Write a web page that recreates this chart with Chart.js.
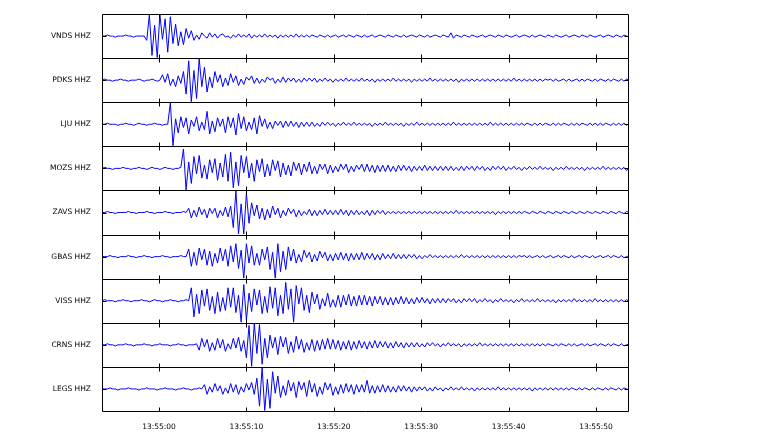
<!DOCTYPE html>
<html>
<head>
<meta charset="utf-8">
<script src="https://cdn.jsdelivr.net/npm/chart.js@4.4.0/dist/chart.umd.min.js"></script>
<style>
  html, body { margin: 0; padding: 0; background: #fff; }
</style>
</head>
<body>
<canvas id="seis" width="768" height="432"></canvas>
<script>
// station channels, top to bottom
const stations = ['VNDS HHZ', 'PDKS HHZ', 'LJU HHZ', 'MOZS HHZ', 'ZAVS HHZ',
                  'GBAS HHZ', 'VISS HHZ', 'CRNS HHZ', 'LEGS HHZ'];
// seconds after 13:55:00
const tickSeconds = [0, 10, 20, 30, 40, 50];
const timePrefix = '13:55:';
const startTime = -6.5;   // first sample, s
const sampleStep = 0.3;   // s between samples

// amplitudes (panel half height = 20)
const vnds = [0,0,1,0,0,-1,0,0,0,1, 0,0,-1,0,0,0,0,-4,20,-18, 10,-20,20,-3,16,-15,18,-7,11,-9,
  4,-8,7,-2,5,-4,1,-3,3,0, -2,3,-1,2,-2,1,2,-1,0,-2, 1,-1,2,-1,1,-1,2,-2,1,-1,
  1,-1,2,-1,1,-1,1,-2,1,-1, 1,-1,1,-1,2,-1,1,-1,1,-1, 1,0,-1,1,0,-1,1,-1,0,1,
  -1,0,1,-1,1,0,-1,1,0,-1, 1,-1,0,1,-1,0,1,0,-1,1, 0,-1,1,0,-1,1,-1,0,1,0,
  -1,1,0,-1,1,-1,0,1,0,-1, 1,0,-1,3,-2,1,0,-1,1,0, -1,1,0,-1,0,1,-1,0,1,0,
  -1,1,0,-1,1,0,-1,0,1,-1, 0,1,0,-1,1,-1,0,1,0,-1, 1,0,-1,1,0,-1,0,1,-1,0,
  1,0,-1,1,0,-1,1,0,-1,0, 1,-1,0,1,0,-1,1,0,-1,1, 0,-1,1,0,0];
const pdks = [0,1,0,0,-1,0,0,1,0,0, -1,0,0,0,1,0,-1,0,0,1, 0,-1,0,5,-2,6,-5,1,-6,4,
  -3,8,-13,18,-20,9,-17,20,-6,12, -11,3,-7,8,-2,5,-6,2,-5,6, -2,4,-5,1,-4,3,0,4,-3,2,
  -3,1,-2,3,0,2,-3,1,-2,3, -2,2,-1,2,-2,1,-2,2,-1,2, -1,2,-2,1,-1,2,-1,1,-2,1,
  -1,1,-1,2,-1,1,-1,1,-1,2, -1,1,-1,1,-2,1,-1,1,-1,1, -1,2,-1,1,-1,1,-1,1,-2,1,
  -1,1,-1,1,-1,2,-1,1,-1,1, -1,1,-1,1,-1,1,-2,1,-1,1, -1,1,-1,1,-1,1,-1,1,-1,1,
  -1,1,-1,1,-1,1,-1,2,-1,1, -1,1,-1,1,-1,1,-1,1,-1,1, 0,1,-1,1,-1,0,1,-1,1,-1,
  0,1,-1,1,-1,1,0,-1,1,-1, 1,0,-1,1,-1,1,0,-1,1,-1, 1,0,-1,1,0];
const lju = [0,0,1,0,0,0,-1,0,0,1, 0,0,-1,0,1,0,0,-1,0,0, 1,0,0,-1,0,0,20,-20,5,-8,
  7,-3,6,-9,4,-2,7,-6,2,-5, 12,-9,3,-7,6,-2,5,-8,7,-3, 6,-10,10,-4,7,-6,2,-5,6,-9,
  8,-2,5,-4,2,-4,3,-1,3,-3, 3,-2,3,-2,2,-3,2,-2,2,-2, 2,-2,1,-2,2,-1,2,-1,1,-2,
  1,-1,2,-1,1,-1,2,-1,1,-1, 1,-1,1,-2,1,-1,1,-1,2,-1, 1,-1,1,-1,1,-2,1,-1,1,-1,
  2,-1,1,-1,1,-1,1,-1,1,-1, 1,-1,1,-1,2,-1,1,-1,1,-1, 1,-1,1,-1,1,-1,1,-1,2,-1,
  1,-1,1,-1,1,-1,1,-1,1,-1, 1,-1,1,0,-1,1,-1,1,-1,1, 0,-1,1,-1,1,-1,1,0,-1,1,
  -1,1,-1,1,0,-1,1,-1,1,-1, 1,-1,1,0,-1,1,-1,1,-1,1, -1,1,0,-1,0];
const mozs = [0,1,0,0,-1,0,0,0,1,0, 0,-1,0,0,1,0,0,-1,0,1, 0,0,-1,0,1,0,0,-1,0,0,
  1,18,-20,6,-14,11,-5,12,-9,3, -10,8,-4,9,-11,5,-8,13,-12,15, -18,6,-16,12,-4,11,-9,5,-12,8,
  -3,9,-8,4,-7,8,-2,7,-8,5, -6,3,-7,6,-2,5,-6,4,-3,6, -5,2,-5,4,-1,4,-5,3,-4,2,
  -3,4,-1,4,-4,2,-3,3,-1,4, -3,4,-3,3,-4,3,-3,3,-3,3, -3,2,-3,3,-2,3,-2,2,-3,2,
  -2,2,-2,3,-2,2,-2,2,-2,2, -2,2,-2,2,-2,1,-2,2,-2,2, -1,2,-2,2,-1,2,-2,1,-2,2,
  -1,2,-1,2,-2,1,-1,2,-1,1, -2,1,-1,2,-1,1,-1,2,-1,1, -1,1,-2,1,-1,1,-1,2,-1,1,
  -1,1,-1,1,-2,1,-1,1,-1,1, -1,2,-1,1,-1,1,-1,1,-1,1, -2,1,-1,1,0];
const zavs = [0,0,1,0,0,-1,0,0,0,0, 1,0,0,-1,0,0,0,1,0,0, -1,0,0,0,1,0,0,-1,0,0,
  0,1,0,4,-5,2,-4,5,-2,3, -5,4,-1,4,-5,2,-3,5,-4,6, -14,20,-20,8,-20,18,-10,9,-3,7,
  -6,4,-7,3,-5,6,-2,4,-5,2, -3,4,-1,3,-4,2,-3,1,-2,3, -3,2,-3,2,-2,3,-2,2,-2,2,
  -2,3,-2,2,-3,2,-2,2,-2,1, -2,2,-3,2,-2,2,-1,2,-2,1, -1,1,-1,1,-1,1,-1,1,-1,1,
  -1,1,-1,1,-1,1,-1,1,-1,1, -1,1,-1,1,-1,2,-1,1,-1,1, -1,1,-1,1,-1,1,-1,1,-1,1,
  -2,1,-1,1,-1,1,-1,1,-1,1, -1,1,0,-1,1,0,-1,1,0,-1, 1,0,-1,1,0,-1,1,0,-1,1,
  0,-1,1,0,-1,1,0,-1,1,0, -1,1,0,-1,1,0,-1,1,0,-1, 1,0,-1,1,0];
const gbas = [0,0,0,1,0,0,-1,0,0,0, 1,0,0,-1,0,0,1,0,0,-1, 0,0,0,1,0,0,-1,0,0,0,
  1,0,0,7,-9,4,-8,8,-3,7, -8,5,-9,3,-6,8,-4,7,-9,10, -5,12,-11,6,-20,12,-6,10,-8,3,
  -8,7,-3,9,-12,4,-20,12,-14,5, -12,9,-4,7,-6,2,-5,6,-1,4, -5,2,-4,5,-1,4,-4,2,-4,3,
  -3,4,-3,3,-4,3,-3,3,-3,4, -3,3,-2,3,-3,2,-3,3,-2,2, -2,3,-2,2,-2,2,-2,2,-1,2,
  -2,1,-2,1,-1,2,-1,1,-1,1, -1,1,-1,1,-1,1,-1,2,-1,1, -1,1,-1,1,-1,1,-1,1,-1,1,
  -1,1,-1,1,-1,1,-1,1,-1,1, 0,1,-1,1,-1,0,1,-1,1,-1, 0,1,-1,0,1,-1,1,0,-1,1,
  -1,0,1,-1,1,0,-1,1,-1,0, 1,-1,0,1,-1,1,0,-1,1,-1, 0,1,-1,0,0];
const viss = [0,1,0,0,0,-1,0,0,1,0, 0,-1,0,0,0,1,0,0,-1,0, 1,0,0,-1,0,0,1,0,0,-1,
  0,0,1,0,12,-15,6,-12,10,-5, 11,-9,4,-12,8,-10,3,-9,12,-6, 12,-11,5,-20,15,-18,7,-10,11,-4,
  10,-12,4,-11,13,-7,12,-14,5,-12, 17,-8,11,-20,14,-3,12,-9,5,-11, 8,-3,6,-8,2,-5,7,-6,1,-6,
  5,-6,5,-4,6,-5,4,-5,5,-4, 5,-4,4,-5,4,-3,4,-4,3,-4, 3,-4,3,-3,4,-3,3,-3,2,-3,
  3,-2,3,-2,2,-3,2,-2,2,-2, 2,-2,2,-1,2,-2,1,-2,2,-1, 2,-1,2,-2,1,-1,2,-1,1,-2,
  1,-1,2,-1,1,-1,1,-2,1,-1, 2,-1,1,-1,1,-1,2,-1,1,-1, 1,-1,1,-2,1,-1,1,-1,1,-1,
  2,-1,1,-1,1,-1,1,-1,2,-1, 1,-1,1,-1,1,-1,1,-1,1,-1, 1,-1,1,-1,0];
const crns = [0,0,1,0,0,-1,0,0,0,1, 0,0,-1,0,0,0,1,0,0,-1, 0,0,1,0,0,0,-1,0,0,1,
  0,0,-1,0,0,0,1,-5,6,-2, 5,-6,2,-5,6,-3,5,-6,1,-4, 6,-3,7,-6,4,-12,18,-20,20,-8,
  19,-18,6,-12,9,-3,7,-9,8,-2, 7,-8,3,-7,8,-4,5,-7,2,-5, 5,-6,4,-5,5,-4,6,-4,5,-4,
  4,-5,3,-4,4,-5,3,-4,4,-3, 3,-4,3,-3,4,-3,3,-2,3,-3, 2,-3,3,-2,2,-3,2,-2,2,-2,
  2,-2,1,-2,2,-1,2,-1,1,-2, 1,-1,2,-1,1,-1,1,-2,1,-1, 1,-1,1,-1,2,-1,1,-1,1,-1,
  1,-1,1,-1,1,-1,1,-1,1,-1, 1,-1,1,-1,1,-1,1,-1,1,-1, 1,0,-1,1,-1,1,0,-1,1,-1,
  1,-1,0,1,-1,1,-1,0,1,-1, 1,0,-1,1,-1,1,0,-1,1,-1, 0,1,-1,1,0];
const legs = [0,0,0,1,0,0,-1,0,0,0, 1,0,0,0,-1,0,0,1,0,0, 0,-1,0,0,1,0,0,0,-1,0,
  0,1,0,0,-1,0,0,1,0,4, -5,2,-3,5,-2,3,-5,1,-4,5, -3,4,-5,2,-3,5,-1,6,-5,10,
  -16,20,-20,9,-18,16,-4,12,-8,3, -6,8,-2,6,-8,7,-1,6,-7,8, -3,5,-7,2,-5,6,-1,5,-6,2,
  -5,4,-4,5,-3,4,-5,4,-3,4, -3,8,-4,3,-4,3,-3,4,-3,3, -3,2,-3,3,-2,3,-2,2,-3,2,
  -2,2,-1,2,-2,1,-2,2,-1,1, -2,1,-1,2,-1,1,-1,2,-1,1, -1,1,-2,1,-1,1,-1,1,-1,1,
  -1,2,-1,1,-1,1,-1,1,-1,1, -1,1,-1,1,-2,1,-1,1,-1,1, -1,1,-1,1,-1,1,-1,1,-1,1,
  0,-1,1,-1,1,0,-1,1,-1,1, 0,-1,1,-1,1,0,-1,1,-1,1, 0,-1,1,0,0];

const traces = [vnds, pdks, lju, mozs, zavs, gbas, viss, crns, legs];

const fontFamily = '"DejaVu Sans", sans-serif';

let scales = {
    x: {
        type: 'linear',
        position: 'bottom',
        min: -6.52,
        max: 53.66,
        afterBuildTicks: s => { s.ticks = tickSeconds.map(v => ({ value: v })); },
        afterFit: s => { s.height = 21; },
        grid: { display: false },
        border: { display: false },
        ticks: {
            padding: 4,
            maxRotation: 0,
            color: '#000',
            font: { family: fontFamily, size: 7.5 },
            callback: v => timePrefix + String(v).padStart(2, '0')
        }
    }
};

// stacked left axes are laid out last-first, so add them bottom to top
for (let k = stations.length - 1; k >= 0; k--) {
    let name = stations[k];
    scales['y' + k] = {
        type: 'linear',
        position: 'left',
        stack: 'traces',
        stackWeight: 1,
        min: -20.5,
        max: 20.5,
        afterBuildTicks: s => { s.ticks = [{ value: 0 }]; },
        afterFit: s => { s.width = 102; },
        grid: { display: false },
        border: { display: false },
        ticks: {
            padding: 3,
            color: '#000',
            font: { family: fontFamily, size: 7.5 },
            callback: () => name
        }
    };
}

let datasets = traces.map(function (values, k) {
    return {
        label: stations[k],
        yAxisID: 'y' + k,
        data: values.map((v, i) => ({ x: startTime + i * sampleStep, y: v })),
        borderColor: '#0000ff',
        borderWidth: 1,
        pointRadius: 0,
        tension: 0,
        fill: false
    };
});

// panel frames and the small inward ticks, like the original plot
const panelFrames = {
    id: 'panelFrames',
    afterDatasetsDraw(chart) {
        let ctx = chart.ctx,
            area = chart.chartArea,
            xScale = chart.scales.x;
        ctx.save();
        ctx.strokeStyle = '#000';
        ctx.lineWidth = 1;
        stations.forEach(function (name, k) {
            let s = chart.scales['y' + k];
            let top = Math.round(s.top) + 0.5,
                bottom = Math.round(s.bottom) + 0.5,
                left = Math.round(area.left) + 0.5,
                right = Math.round(area.right) + 0.5,
                zero = Math.round(s.getPixelForValue(0)) + 0.5;
            ctx.beginPath();
            ctx.rect(left, top, right - left, bottom - top);
            tickSeconds.forEach(function (t) {
                let px = Math.round(xScale.getPixelForValue(t)) + 0.5;
                ctx.moveTo(px, top);
                ctx.lineTo(px, top + 4);
                ctx.moveTo(px, bottom);
                ctx.lineTo(px, bottom - 4);
            });
            ctx.moveTo(left, zero);
            ctx.lineTo(left + 4, zero);
            ctx.moveTo(right, zero);
            ctx.lineTo(right - 4, zero);
            ctx.stroke();
        });
        ctx.restore();
    }
};

let canvas = document.getElementById('seis');
new Chart(canvas.getContext('2d'), {
    type: 'line',
    data: { datasets: datasets },
    options: {
        responsive: false,
        animation: false,
        devicePixelRatio: 1,
        layout: { padding: { left: 0, right: 140, top: 14, bottom: 0 } },
        plugins: {
            legend: { display: false },
            tooltip: { enabled: false }
        },
        scales: scales
    },
    plugins: [panelFrames]
});
</script>
</body>
</html>
